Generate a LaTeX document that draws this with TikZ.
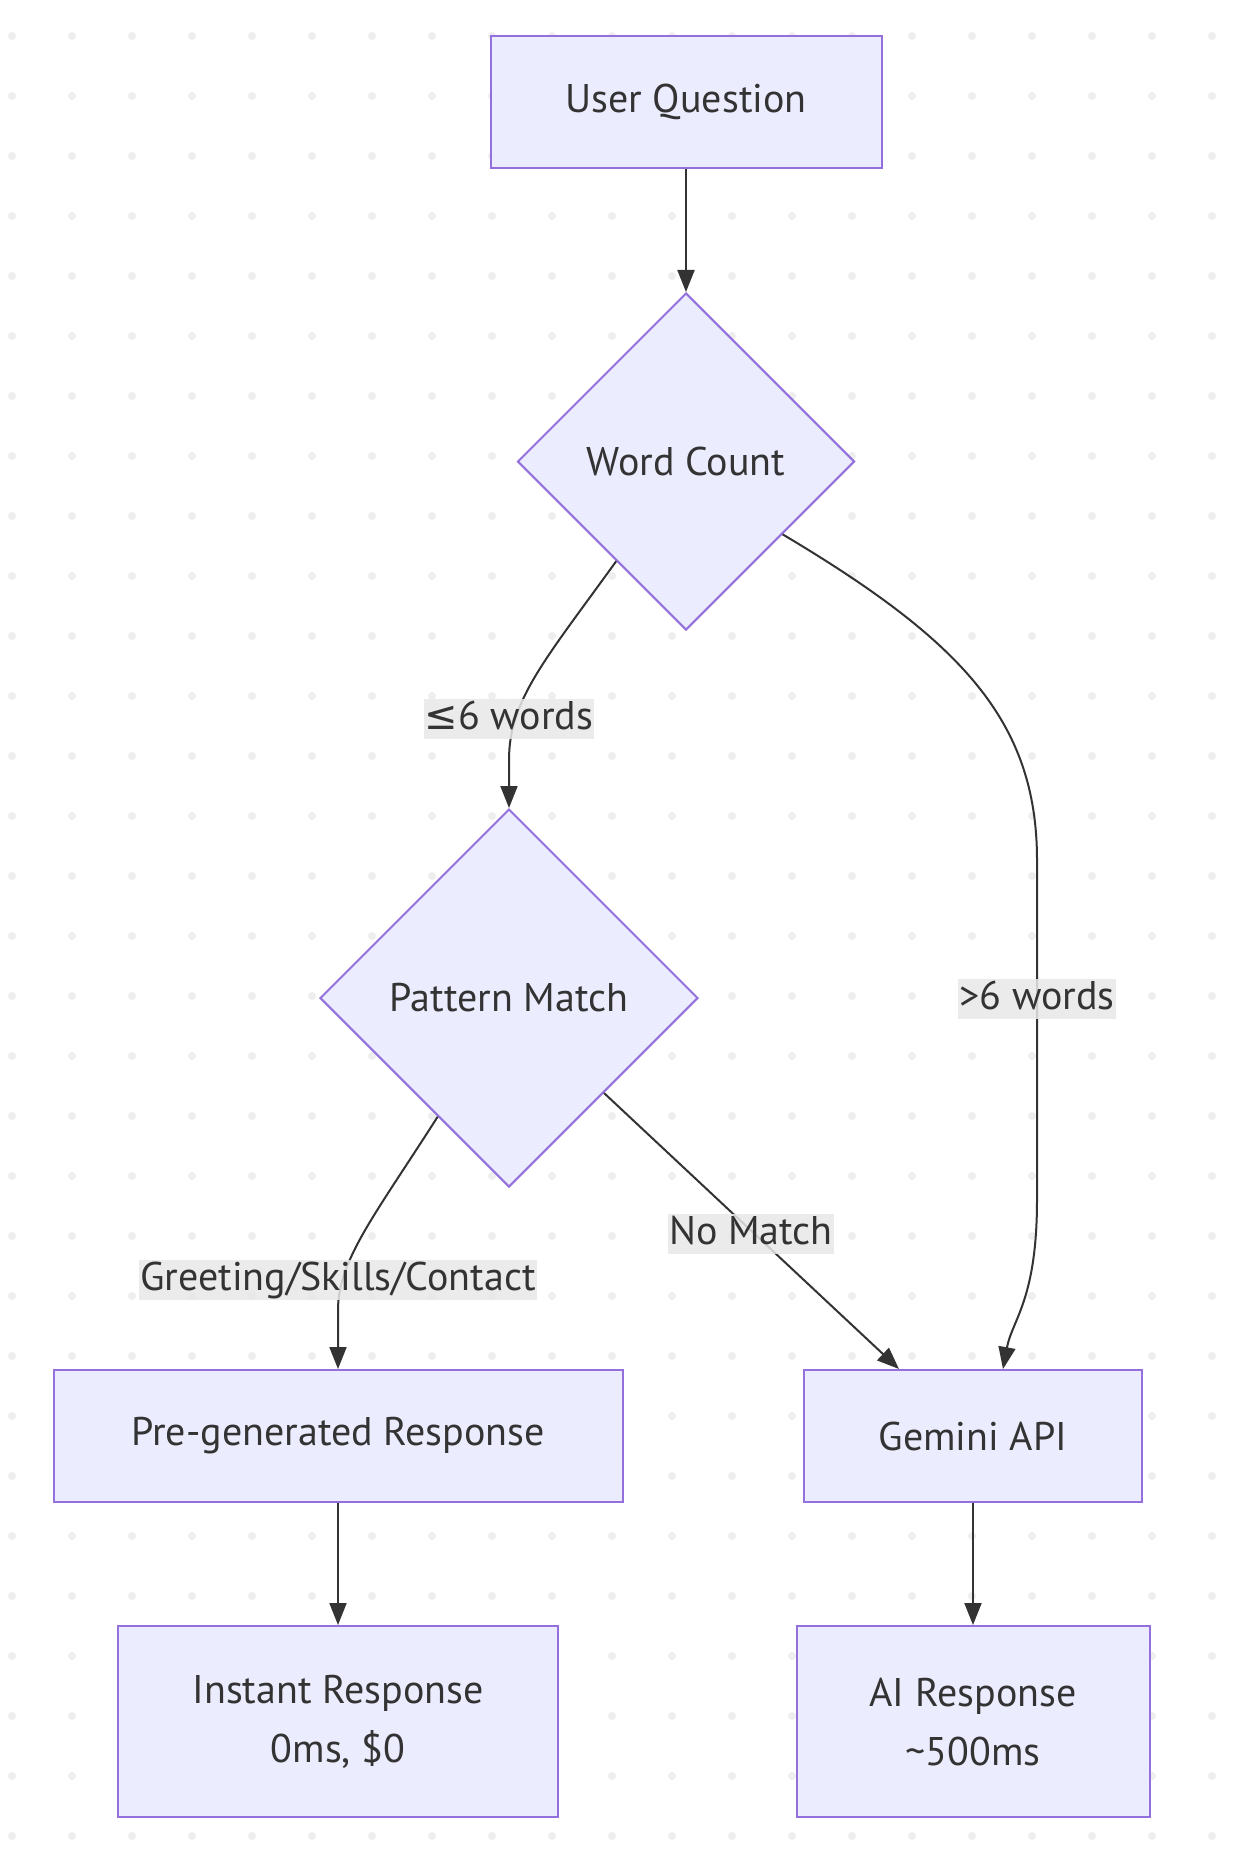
\documentclass[tikz,border=0pt]{standalone}
\usepackage{fontspec}
\setmainfont{PT Sans}
\newfontfamily\symfont{DejaVu Sans}
\usetikzlibrary{shapes.geometric}
\usetikzlibrary{arrows.meta}
\usetikzlibrary{positioning}
\definecolor{nodefill}{HTML}{ECECFF}
\definecolor{nodeline}{HTML}{9370DB}
\definecolor{ink}{HTML}{333333}
\definecolor{lblgray}{HTML}{E8E8E8}
\definecolor{dotgray}{HTML}{EEEEEE}
\begin{document}
\begin{tikzpicture}[x=1pt,y=-1pt,
  every node/.style={font=\fontsize{40}{59}\selectfont,text=ink},
  box/.style={draw=nodeline,fill=nodefill,line width=2pt,minimum height=132pt,align=center},
  decision/.style={diamond,draw=nodeline,fill=nodefill,line width=2pt,inner sep=0pt},
  lbl/.style={fill=lblgray,fill opacity=0.85,text opacity=1,inner xsep=1pt,inner ysep=0pt,text height=30pt,text depth=10pt},
  flow/.style={draw=ink,line width=2pt,-{Triangle[length=22pt,width=17pt]}}]
  \useasboundingbox (0,0) rectangle (1234,1856);
  \fill[white] (0,0) rectangle (1234,1856);
  \foreach \i in {0,...,20}
    \foreach \j in {0,...,30}
      \fill[dotgray] (12+60*\i,36+60*\j) circle (4pt);
  \node[box,minimum width=391pt] (uq) at (686,102) {User Question};
  \node[decision,minimum width=337pt,minimum height=337pt,below=123pt of uq] (wc) {Word Count};
  \node[decision,minimum width=378pt,minimum height=378pt] (pm) at (509,998) {Pattern Match};
  \node[box,minimum width=569pt] (pg) at (338,1436) {Pre-generated Response};
  \node[box,minimum width=338pt] (gm) at (973,1436) {Gemini API};
  \node[box,minimum width=440pt,minimum height=191pt,below=122pt of pg] (ir) {Instant Response\\0ms, \$0};
  \node[box,minimum width=353pt,minimum height=191pt,below=122pt of gm] (ai) {AI Response\\\textasciitilde500ms};
  \draw[flow] (uq) -- (wc);
  \draw[flow] (wc.-125) .. controls (545,660) and (509,700) .. (509,760) -- (pm.north);
  \draw[flow] (wc.-37) .. controls (960,640) and (1037,720) .. (1037,860) -- (1037,1200) .. controls (1037,1300) and (1012,1320) .. ([xshift=30pt]gm.north);
  \draw[flow] (pm.-45) -- ([xshift=-74pt]gm.north);
  \draw[flow] (pm.-121) .. controls (375,1215) and (338,1260) .. (338,1310) -- (pg.north);
  \draw[flow] (pg) -- (ir);
  \draw[flow] (gm) -- (ai);
  \node[lbl] (le6) at (509,719) {{\symfont ≤}6 words};
  \node[lbl] (gt6) at (1037,999) {>6 words};
  \node[lbl] (gsc) at (338,1280) {Greeting/Skills/Contact};
  \node[lbl] (nomatch) at (751,1234) {No Match};
\end{tikzpicture}
\end{document}
